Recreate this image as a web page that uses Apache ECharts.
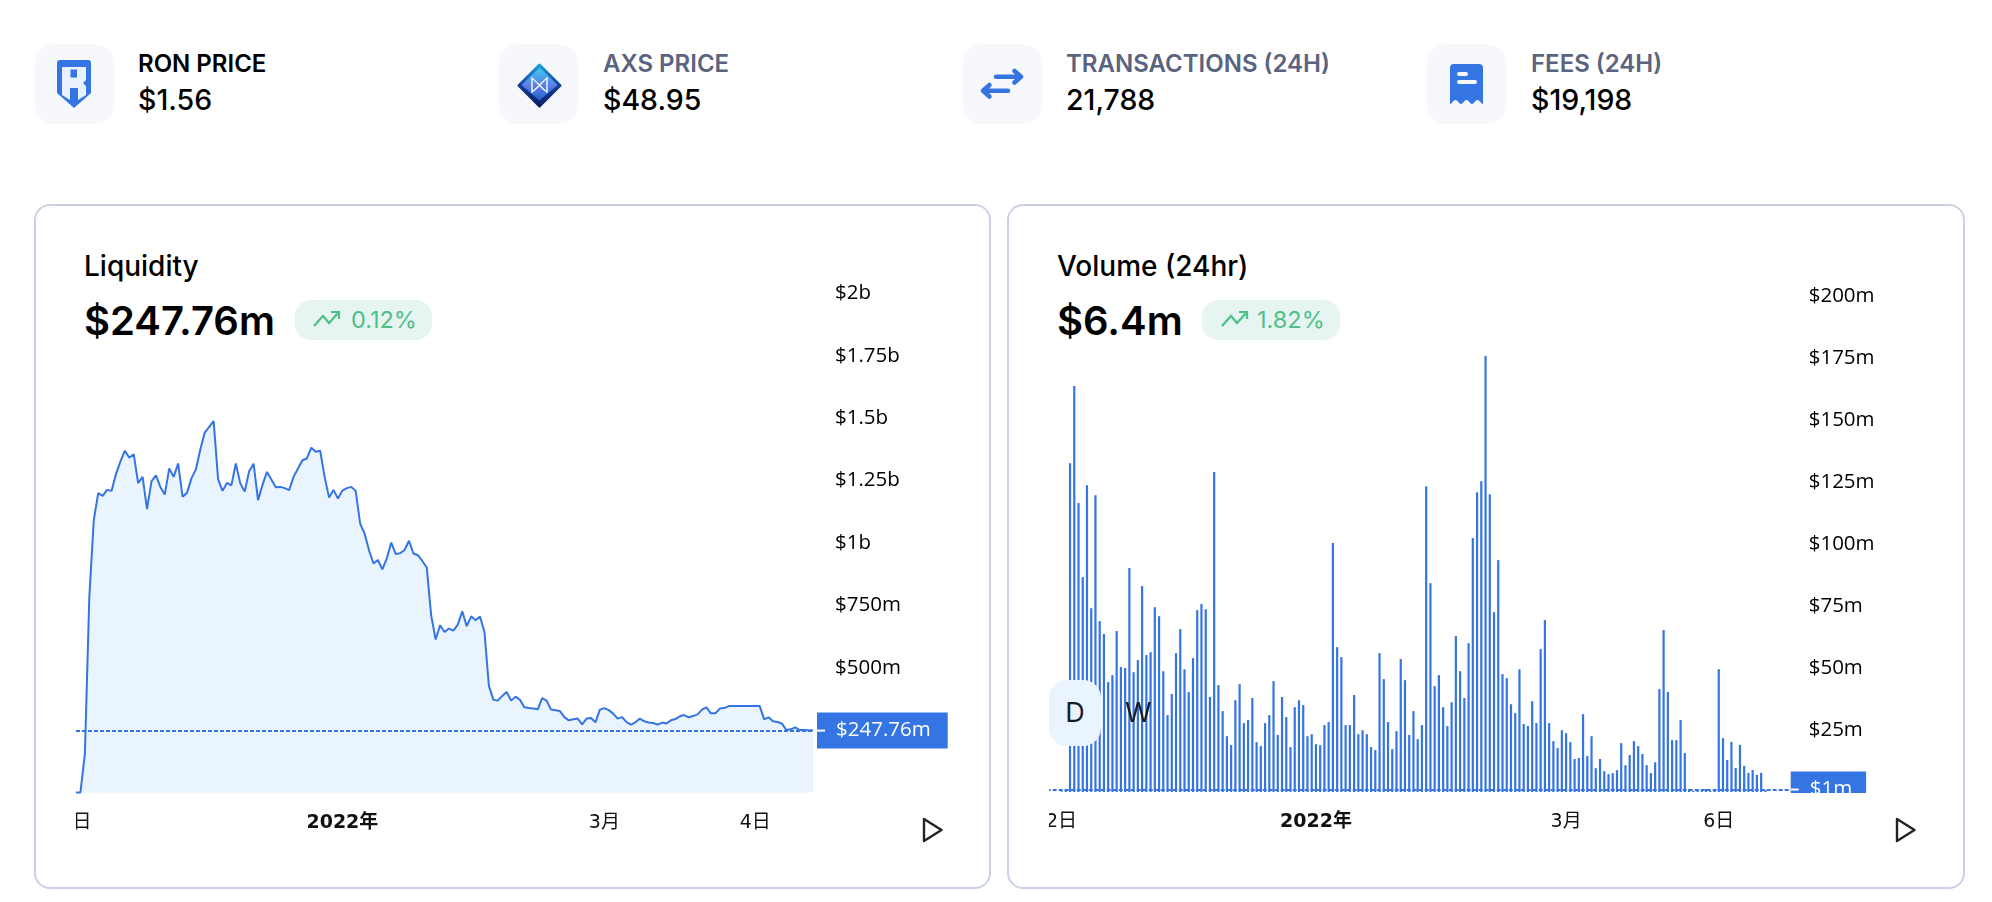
<!DOCTYPE html>
<html><head><meta charset="utf-8">
<script src="https://cdn.jsdelivr.net/npm/echarts@6/dist/echarts.min.js"></script>
<style>
html,body{margin:0;padding:0;background:#fff;width:1992px;height:902px;overflow:hidden;font-family:Inter,"Noto Sans",sans-serif;color:#000}
.a{position:absolute;white-space:nowrap}
.box{position:absolute;width:80px;height:80px;top:44px;border-radius:20px;background:#f6f8fc}
.lab{top:52px;font-size:24px;line-height:24px;font-weight:600;color:#5a6480}
.val{top:86px;font-size:28.500px;line-height:28px;font-weight:500}
.card{position:absolute;top:204px;height:681px;border:2px solid #cbd2e4;border-radius:16px;box-sizing:content-box;background:#fff}
.ttl{top:252px;font-size:28px;line-height:28px;font-weight:500}
.big{top:302px;font-size:40px;line-height:38px;font-weight:600}
.badge{position:absolute;top:300px;height:40px;border-radius:16px;background:#e6f5f1}
.pct{top:308px;font-size:23.500px;line-height:24px;color:#4fbf87}
svg{position:absolute;overflow:visible}
#c1,#c2{position:absolute;top:270px;height:580px}
</style></head><body>
<div class="box" style="left:34px"></div>
<svg style="left:57px;top:60px" width="34" height="48" viewBox="0 0 34 48"><path d="M3 0H31a3 3 0 0 1 3 3V33L17 48L0 33V3a3 3 0 0 1 3-3Z" fill="#3574e3"/><path fill-rule="evenodd" d="M5 7H29V20L26 23L29 26V35L21 40V28H13V40L5 35Z M13.500 9.500V17.500H20V9.500Z" fill="#e9f1fd"/></svg>
<div class="a lab" style="left:138px;color:#000">RON PRICE</div><div class="a val" style="left:138px">$1.56</div>

<div class="box" style="left:498px"></div>
<svg style="left:517px;top:63px" width="45" height="45" viewBox="0 0 45 45"><defs><linearGradient id="g0" x1="0" y1="0" x2="0" y2="1"><stop offset="0" stop-color="#1f9fd8"/><stop offset=".5" stop-color="#123f9c"/><stop offset="1" stop-color="#0a1f66"/></linearGradient><linearGradient id="g" x1="0" y1="0" x2="0" y2="1"><stop offset="0" stop-color="#3cc8ec"/><stop offset=".55" stop-color="#5f7ce6"/><stop offset="1" stop-color="#1d63c9"/></linearGradient></defs><path d="M22.500 2L43 22.500L22.500 43L2 22.500Z" fill="url(#g0)" stroke="url(#g0)" stroke-width="3" stroke-linejoin="round"/><path d="M22.500 5L40 22L22.500 37L5 22Z" fill="url(#g)" stroke="url(#g)" stroke-width="1" stroke-linejoin="round"/><path d="M15 15C19 18 26 27 30 29V15C26 18 19 27 15 29Z" fill="none" stroke="#eaf6ff" stroke-width="1.500"/></svg>
<div class="a lab" style="left:603px">AXS PRICE</div><div class="a val" style="left:603px">$48.95</div>

<div class="box" style="left:962px"></div>
<svg style="left:981px;top:69px" width="42" height="30" viewBox="0 0 42 30" fill="none" stroke="#3574e3" stroke-width="4.500" stroke-linecap="round" stroke-linejoin="round"><path d="M15 7.700H39M33.500 2L40 7.700L33.500 13.500"/><path d="M27 21.700H3M8.500 16L2 21.700L8.500 27.500"/></svg>
<div class="a lab" style="left:1066px">TRANSACTIONS (24H)</div><div class="a val" style="left:1066px">21,788</div>

<div class="box" style="left:1426px"></div>
<svg style="left:1450px;top:64px" width="33" height="40" viewBox="0 0 33 40"><path d="M4 0H29a4 4 0 0 1 4 4V40C31 40 30 36 27.500 36C25 36 24 40 22 40C20 40 19 36 16.500 36C14 36 13 40 11 40C9 40 8 36 5.500 36C3 36 2 40 0 40V4a4 4 0 0 1 4-4Z" fill="#3574e3"/><rect x="7" y="8" width="11" height="4" rx="2" fill="#f6f8fc"/><rect x="7" y="16" width="20" height="4" rx="2" fill="#f6f8fc"/></svg>
<div class="a lab" style="left:1531px">FEES (24H)</div><div class="a val" style="left:1531px">$19,198</div>

<div class="card" style="left:34px;width:953px"></div>
<div class="card" style="left:1007px;width:954px"></div>

<div class="a ttl" style="left:84px">Liquidity</div><div class="a big" style="left:84px">$247.76m</div>
<div class="badge" style="left:295px;width:137px"></div>
<svg style="left:313px;top:310px" width="27" height="17" viewBox="0 0 27 17" fill="none" stroke="#4fbf87" stroke-width="2.200"><path d="M1 16L10 6L16 13L26 2M18 2H26V9"/></svg>
<div class="a pct" style="left:351px">0.12%</div>

<div class="a ttl" style="left:1057px">Volume (24hr)</div><div class="a big" style="left:1057px">$6.4m</div>
<div class="badge" style="left:1202px;width:138px"></div>
<svg style="left:1221px;top:310px" width="27" height="17" viewBox="0 0 27 17" fill="none" stroke="#4fbf87" stroke-width="2.200"><path d="M1 16L10 6L16 13L26 2M18 2H26V9"/></svg>
<div class="a pct" style="left:1257px">1.82%</div>

<div id="c1" style="left:76px;width:880px"></div>
<div id="c2" style="left:1049px;width:880px"></div>

<div class="a" style="left:1049px;top:680px;width:52px;height:66px;border-radius:18px;background:#e9f4fe;text-align:center;font-size:27px;line-height:66px;color:#1c1c1c">D</div>
<div class="a" style="left:1125px;top:680px;width:26px;height:66px;text-align:center;font-size:27px;line-height:66px;color:#1c1c1c">W</div>

<svg style="left:923px;top:818px" width="20" height="24" viewBox="0 0 20 24"><path d="M1 1L18.500 12L1 23Z" fill="none" stroke="#1f2329" stroke-width="2.400" stroke-linejoin="round"/></svg>
<svg style="left:1896px;top:818px" width="20" height="24" viewBox="0 0 20 24"><path d="M1 1L18.500 12L1 23Z" fill="none" stroke="#1f2329" stroke-width="2.400" stroke-linejoin="round"/></svg>

<script>
// Liquidity ($ millions), one value per day from 2021-11-02
const liquidityStart = '2021-11-02';
const liquidityValues = [0,0,155,784,1091,1200,1189,1213,1209,1276,1326,1370,1342,1356,1240,1265,1136,1247,1271,1225,1194,1299,1265,1319,1186,1201,1259,1295,1375,1443,1466,1489,1256,1209,1241,1231,1319,1239,1206,1288,1318,1172,1232,1285,1255,1224,1225,1220,1212,1265,1299,1332,1339,1382,1366,1370,1265,1182,1213,1178,1210,1220,1225,1209,1078,1038,971,918,932,894,938,1002,956,959,972,1009,958,951,928,902,710,613,670,643,657,649,673,726,666,706,690,705,643,427,372,368,387,403,368,384,371,341,338,336,333,378,368,332,329,326,302,289,293,296,273,296,298,281,332,338,330,316,296,302,282,272,281,296,285,280,278,272,280,276,289,294,305,310,301,306,313,332,341,317,317,336,338,346,346,346,346,346,346,346,346,293,301,285,282,276,250,253,261,250,250,249,248];
const liquidityTickDates = ['2021-11-02','2022-01-01','2022-03-01','2022-04-04'];
const liquidityTickLabels = ['2日','2022年','3月','4日'];
const liquidityCurrent = 247.76;

// Volume ($ millions), one value per day from 2021-10-30
const volumeStart = '2021-10-30';
const volumeValues = [0,0,0,0.3,1,132.6,163.7,116.5,86.6,123.7,74.1,119.7,68.9,63.7,44.3,47.1,64.9,50.4,50,90.3,48.3,53.2,83,55.2,56.4,74.5,70.9,48.7,31,39.5,56,65.7,49.5,40.3,54,73.3,75.8,73.7,38.3,129,43.1,32.6,22.5,18.9,37,43.5,27.8,29,37.9,20.1,18.5,27.8,31,44.7,23,38.3,30.2,18.1,34.2,37,35,22.5,23.3,19.3,18.9,27,28.2,100.4,58.4,54.4,27,27,39.1,23.3,24.9,23.3,18.1,16.9,56,45.5,28.2,17.3,24.5,53.6,45.1,23,32.6,21.3,27,123.3,84.2,42.7,47.1,34.2,26.6,36.2,62.9,48.7,37.9,60,102.4,120.9,125.3,175.8,120.1,72.5,93.5,47.5,45.9,35.4,31.8,49.5,27.4,26.6,36.6,27.8,57.6,69.3,27.8,20.5,17.7,24.9,23.7,20.1,13.3,13.7,31.4,14.5,22.5,9.6,13.3,8.4,7.2,7.6,8.8,19.7,10.8,14.9,20.5,18.5,15.3,10.8,7.6,12,41.5,65.3,40.3,20.9,20.9,29,15.7,1.2,0.4,1.2,0.4,1.2,0.4,1.2,49.5,21.7,12.9,20.2,9.7,19,10.5,7.7,8.9,6.9,7.7,0.8,0,0,0,0,0];
const volumeTickDates = ['2021-11-02','2022-01-01','2022-03-01','2022-04-06'];
const volumeTickLabels = ['2日','2022年','3月','6日'];
const volumeCurrent = 1;

const BLUE = '#3574e3', FONT = '"DejaVu Sans","Noto Sans CJK JP",sans-serif', NUM = '"Open Sans",sans-serif';
function dayList(start, n){
  const out = [], t = Date.parse(start + 'T00:00:00Z');
  for (let i = 0; i < n; i++) out.push(new Date(t + i * 864e5).toISOString().slice(0, 10));
  return out;
}
function xAxis(dates, tickDates, tickLabels, boundaryGap){
  return {
    type: 'category', data: dates, boundaryGap,
    axisLine: {show: false}, axisTick: {show: false},
    axisLabel: {
      margin: 21, fontSize: 19, fontFamily: FONT, color: '#111', hideOverlap: false,
      interval: (i, v) => tickDates.includes(v),
      formatter: v => {
        const s = tickLabels[tickDates.indexOf(v)] || '';
        return s.includes('年') ? '{y|' + s + '}' : s;
      },
      rich: {y: {fontSize: 19, fontWeight: 'bold', fontFamily: FONT, color: '#111'}}
    }
  };
}
function yAxis(max, interval, hide, margin){
  return {
    type: 'value', position: 'right', min: 0, max, interval,
    axisLine: {show: false}, axisTick: {show: false}, splitLine: {show: false},
    axisLabel: {
      margin, fontSize: 20.5, fontFamily: NUM, color: '#000', padding: [4, 0, 0, 0],
      formatter: v => hide.includes(v) ? '' : (v >= 1000 ? '$' + v / 1000 + 'b' : '$' + v + 'm')
    }
  };
}
function currentLine(value, text, gap, pad){
  return {
    silent: true, symbol: 'none', animation: false,
    lineStyle: {color: BLUE, type: [4, 2], width: 2},
    label: {
      show: true, position: 'end', distance: gap, formatter: '{t|}{v|' + text + '}',
      backgroundColor: BLUE, padding: [0, pad, 0, 0], height: 36, lineHeight: 36,
      rich: {
        t: {width: 8, height: 2, backgroundColor: '#fff'},
        v: {color: '#fff', fontSize: 20.5, fontFamily: NUM, padding: [0, 0, 0, 11], lineHeight: 36}
      }
    },
    data: [{yAxis: value}]
  };
}

const c1 = echarts.init(document.getElementById('c1'));
c1.setOption({
  animation: false,
  grid: {left: 0, width: 737, top: 23.6, height: 498.800, outerBoundsMode: 'none'},
  xAxis: xAxis(dayList(liquidityStart, liquidityValues.length), liquidityTickDates, liquidityTickLabels, false),
  yAxis: yAxis(2000, 250, [0, 250], 22),
  series: [{
    type: 'line', data: liquidityValues, showSymbol: false, clip: false,
    lineStyle: {color: BLUE, width: 2}, areaStyle: {color: '#e9f4fe', opacity: 1},
    itemStyle: {color: BLUE},
    markLine: currentLine(liquidityCurrent, '$247.76m', 4, 17)
  }]
});

const c2 = echarts.init(document.getElementById('c2'));
c2.setOption({
  animation: false,
  grid: {left: -2.3, width: 742, top: 26, height: 496, outerBoundsMode: 'none'},
  xAxis: xAxis(dayList(volumeStart, volumeValues.length), volumeTickDates, volumeTickLabels, true),
  yAxis: yAxis(200, 25, [0], 20),
  graphic: [{type: 'rect', z: 1000, shape: {x: 730, y: 523, width: 110, height: 18}, style: {fill: '#fff'}}],
  series: [{
    type: 'bar', data: volumeValues, barWidth: 2.2, itemStyle: {color: BLUE},
    markLine: currentLine(volumeCurrent, '$1m', 2, 14)
  }]
});
</script>
</body></html>
